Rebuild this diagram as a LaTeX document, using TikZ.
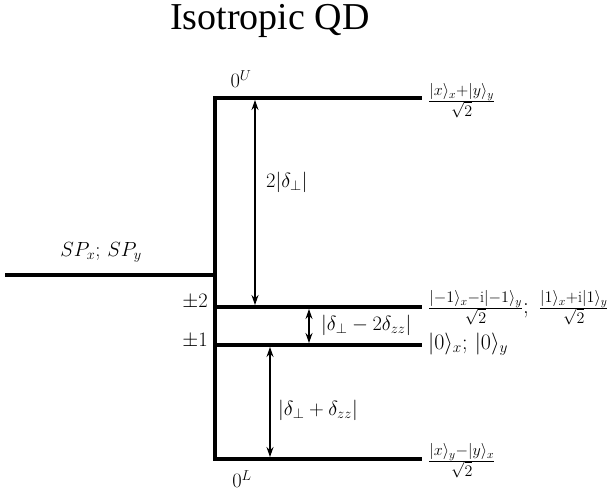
\RequirePackage{fix-cm}
\documentclass[tikz,border=0pt]{standalone}
\usepackage{fontspec}
\newfontfamily\titlefont{Liberation Serif}
\usetikzlibrary{arrows.meta}
\begin{document}
\begin{tikzpicture}[x=1pt,y=-1pt,
  level/.style={line width=4pt},
  gap/.style={line width=1.1pt,{Stealth[length=10pt,width=7pt]}-{Stealth[length=10pt,width=7pt]},shorten <=2pt,shorten >=2pt},
  lbl/.style={inner sep=0pt,font=\fontsize{20.5}{24}\selectfont},
  st/.style={inner sep=0pt,anchor=west,font=\fontsize{23}{27}\selectfont}]
\useasboundingbox (0,0) rectangle (612,493);
% title
\node[inner sep=0pt,anchor=base,font=\titlefont\fontsize{38}{44}\selectfont] (title) at (270,29) {Isotropic QD};
% level coordinates
\coordinate (vt) at (215,96);
\coordinate (vb) at (215,461);
\coordinate (uL) at (213,98);  \coordinate (uR) at (422,98);
\coordinate (sL) at (5,275);   \coordinate (sR) at (215,275);
\coordinate (p2L) at (213,307); \coordinate (p2R) at (422,307);
\coordinate (p1L) at (213,345); \coordinate (p1R) at (422,345);
\coordinate (lL) at (213,459);  \coordinate (lR) at (422,459);
% levels
\draw[level] (vt) -- (vb);
\draw[level] (uL) -- (uR);
\draw[level] (sL) -- (sR);
\draw[level] (p2L) -- (p2R);
\draw[level] (p1L) -- (p1R);
\draw[level] (lL) -- (lR);
% arrow ends
\coordinate (a1t) at (255,98);  \coordinate (a1b) at (255,307);
\coordinate (a2t) at (309,307); \coordinate (a2b) at (309,345);
\coordinate (a3t) at (270,345); \coordinate (a3b) at (270,459);
\draw[gap] (a1t) -- (a1b);
\draw[gap] (a2t) -- (a2b);
\draw[gap] (a3t) -- (a3b);
% labels
\node[lbl] (nU) at (241,79) {$0^U$};
\node[lbl] (nL) at (242,479) {$0^L$};
\node[lbl] (nsp) at (101,252) {$SP_x;\,SP_y$};
\node[lbl,anchor=east] (n2) at (208,302) {$\pm2$};
\node[lbl,anchor=east] (n1) at (208,341) {$\pm1$};
\node[lbl,anchor=west] (d1) at (266,182) {$2|\delta_\perp|$};
\node[lbl,anchor=west] (d2) at (321,325) {$|\delta_\perp-2\delta_{zz}|$};
\node[lbl,anchor=west] (d3) at (278,410) {$|\delta_\perp+\delta_{zz}|$};
\node[st] (sU) at (428,101) {$\frac{|x\rangle_x+|y\rangle_y}{\sqrt2}$};
\node[st] (s2) at (428,308) {$\frac{|{-1}\rangle_x-\mathrm{i}|{-1}\rangle_y}{\sqrt2};\;\frac{|1\rangle_x+\mathrm{i}|1\rangle_y}{\sqrt2}$};
\node[st,font=\fontsize{22}{26}\selectfont] (s1) at (428,344) {$|0\rangle_x;\,|0\rangle_y$};
\node[st] (sLb) at (428,461) {$\frac{|x\rangle_y-|y\rangle_x}{\sqrt2}$};
\end{tikzpicture}
\end{document}
